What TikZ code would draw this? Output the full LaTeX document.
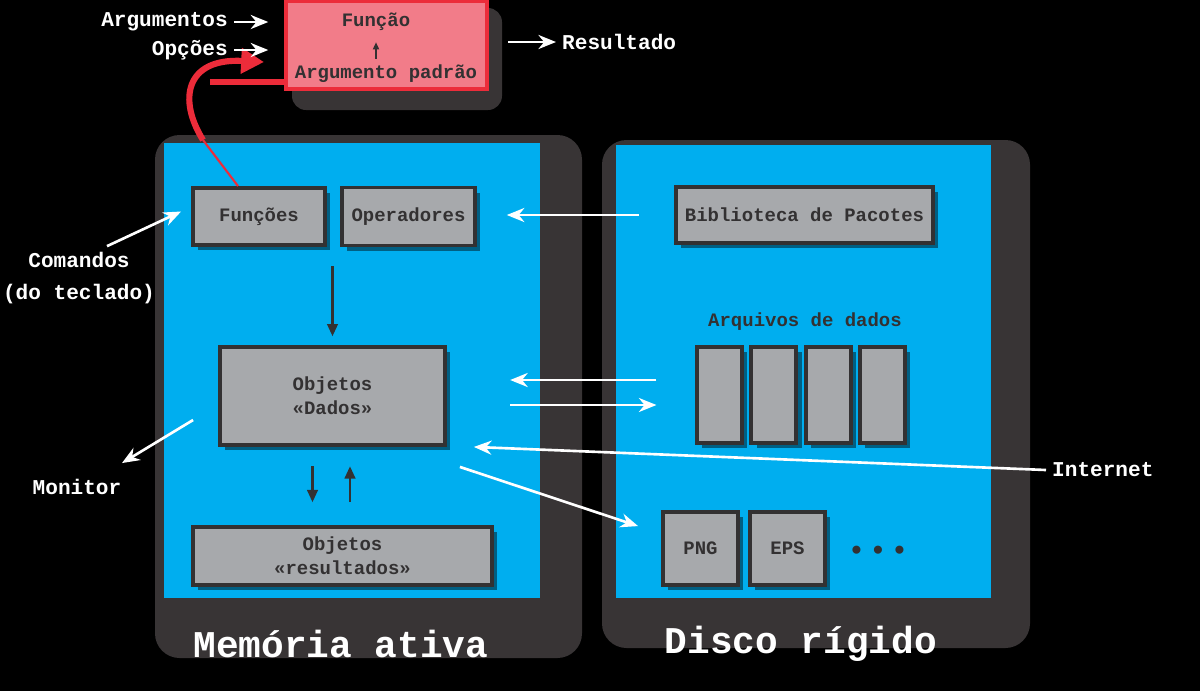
\documentclass[tikz,border=0pt]{standalone}
\usepackage{fontspec}
\setmonofont{Liberation Mono}
\usetikzlibrary{arrows.meta,shadows,positioning}
\definecolor{azul}{HTML}{00AEEF}
\definecolor{painel}{HTML}{383435}
\definecolor{cinza}{HTML}{A7A9AC}
\definecolor{borda}{HTML}{333132}
\definecolor{rosa}{HTML}{F27C89}
\definecolor{vermelho}{HTML}{EC2C3A}
\begin{document}
\begin{tikzpicture}[x=.02cm,y=-.02cm,
 cx/.style={draw=borda,line width=2.2pt,fill=cinza,text=borda,align=center,
  font=\ttfamily\bfseries\fontsize{10.8}{13.6}\selectfont,inner sep=0pt,
  drop shadow={shadow xshift=3pt,shadow yshift=-3pt,opacity=.45,fill=black}},
 tx/.style={text=borda,font=\ttfamily\bfseries\fontsize{10.8}{13.6}\selectfont},
 rot/.style={text=white,align=center,font=\ttfamily\bfseries\fontsize{12}{18}\selectfont},
 tit/.style={text=white,font=\ttfamily\bfseries\fontsize{21.5}{24}\selectfont},
 sb/.style={-{Stealth[length=10pt,width=8pt]},white,line width=1.5pt},
 sp/.style={-{Triangle[length=7pt,width=6pt]},borda,line width=1.4pt}]
 \path[use as bounding box,fill=black] (0,0) rectangle (1200,691);
 % paineis
 \fill[painel,rounded corners=14pt] (155,135) rectangle (582,658);
 \fill[azul] (164,143) rectangle (540,598);
 \fill[painel,rounded corners=14pt] (602,140) rectangle (1030,648);
 \fill[azul] (616,145) rectangle (991,598);
 \node[tit] (mem) at (341,644) {Memória ativa};
 \node[tit] (dis) at (801,644) {Disco rígido};
 % caixa da função
 \fill[painel,rounded corners=8pt] (292,8) rectangle (502,110);
 \node[draw=vermelho,fill=rosa,line width=2.2pt,minimum width=4.02cm,
  minimum height=1.76cm] (fun) at (386.5,45) {};
 \node[tx] (fn) at (376,22) {Função};
 \node[tx] (ap) at (386,74) {Argumento padrão};
 \draw[-{Triangle[length=4pt,width=3.5pt]},borda,line width=.7pt,shorten >=3pt]
  (ap.north -| fn.south) -- (fn.south);
 \path
 (259,216.5) node[cx,minimum width=2.64cm,minimum height=1.14cm] (fu) {Funções} % <<< linha 1
 ++(149.5,0) node[cx,minimum width=2.66cm,minimum height=1.16cm] (op) {Operadores}
 (804.5,215) node[cx,minimum width=5.14cm,minimum height=1.12cm] (bib) {Biblioteca de Pacotes}
 (332.5,396) node[cx,minimum width=4.5cm,minimum height=1.96cm] (da) {Objetos\\«Dados»} % <<< linha 2
 (805,322) node[tx] (arq) {Arquivos de dados}
 (719.5,395) node[cx,minimum width=.9cm,minimum height=1.92cm] (ar1) {}
 ++(54.3,0) node[cx,minimum width=.9cm,minimum height=1.92cm] (ar2) {}
 ++(54.3,0) node[cx,minimum width=.9cm,minimum height=1.92cm] (ar3) {}
 ++(54.3,0) node[cx,minimum width=.9cm,minimum height=1.92cm] (ar4) {}
 (342.5,556) node[cx,minimum width=5.98cm,minimum height=1.16cm] (rs) {Objetos\\«resultados»} % <<< linha 3
 (700.5,548.5) node[cx,minimum width=1.5cm,minimum height=1.46cm] (png) {PNG}
 ++(87,0) node[cx,minimum width=1.5cm,minimum height=1.46cm] (eps) {EPS}
 (878,553) node[tx,font=\ttfamily\bfseries\fontsize{16}{18}\selectfont] (pts) {\textbullet\,\textbullet\,\textbullet};
 % rotulos externos
 \node[rot,anchor=east] (arg) at (234,22) {Argumentos};
 \node[rot,anchor=east] (opc) at (234,50) {Opções};
 \node[rot,anchor=west] (res) at (556,42) {Resultado};
 \node[rot] (cmd) at (79,278) {Comandos\\(do teclado)};
 \node[rot] (mon) at (77,487) {Monitor};
 \node[rot,anchor=west] (net) at (1046,470) {Internet};
 % seta vermelha
 \coordinate (pa) at (264,62);
 \coordinate (rl) at (210,82);
 \draw[vermelho,line width=3pt] (rl) -- (rl -| fun.west);
 \draw[vermelho,line width=1.2pt] ([xshift=-.42cm]fu.north) -- (203,140);
 \draw[vermelho,line width=3.5pt,-{Triangle[length=13pt,width=14pt]}]
  (203,140) .. controls (178,100) and (185,58) .. (pa);
 \begin{scope}[sb]
 \draw[shorten >=9pt] (arg.east) -- (arg.east -| fun.west);
 \draw[shorten >=9pt] (opc.east) -- (opc.east -| fun.west);
 \draw[shorten <=11pt] (fun.east |- res) -- (res.west);
 \draw ([xshift=.56cm]cmd.north) -- ([xshift=-.2cm,yshift=.1cm]fu.west);
 \draw ([shift={(-25,24)}]da.west) -- ([shift={(45,-10)}]mon.north);
 \draw[shorten <=20pt,shorten >=17pt] (bib.west) -- (bib.west -| op.east);
 \draw[shorten <=22pt,shorten >=36pt] ([yshift=.3cm]ar1.west) -- ([yshift=.3cm]ar1.west -| da.east);
 \draw[shorten <=36pt,shorten >=22pt] ([yshift=-.18cm]da.east) -- ([yshift=-.18cm]da.east -| ar1.west);
 \draw (net.west) -- ([xshift=.54cm]da.south east);
 \draw ([shift={(13,20)}]da.south east) -- ([shift={(-23,16)}]png.north west);
 \end{scope}
 \begin{scope}[sp]
 \draw[shorten <=11pt,shorten >=5pt] (fu.south -| da.north) -- (da.north);
 \draw[shorten <=11pt,shorten >=13pt] ([xshift=-.4cm]da.south) -- ([xshift=-.4cm]da.south |- rs.north);
 \draw[shorten <=13pt,shorten >=11pt] ([xshift=.35cm]da.south |- rs.north) -- ([xshift=.35cm]da.south);
 \end{scope}
\end{tikzpicture}
\end{document}
